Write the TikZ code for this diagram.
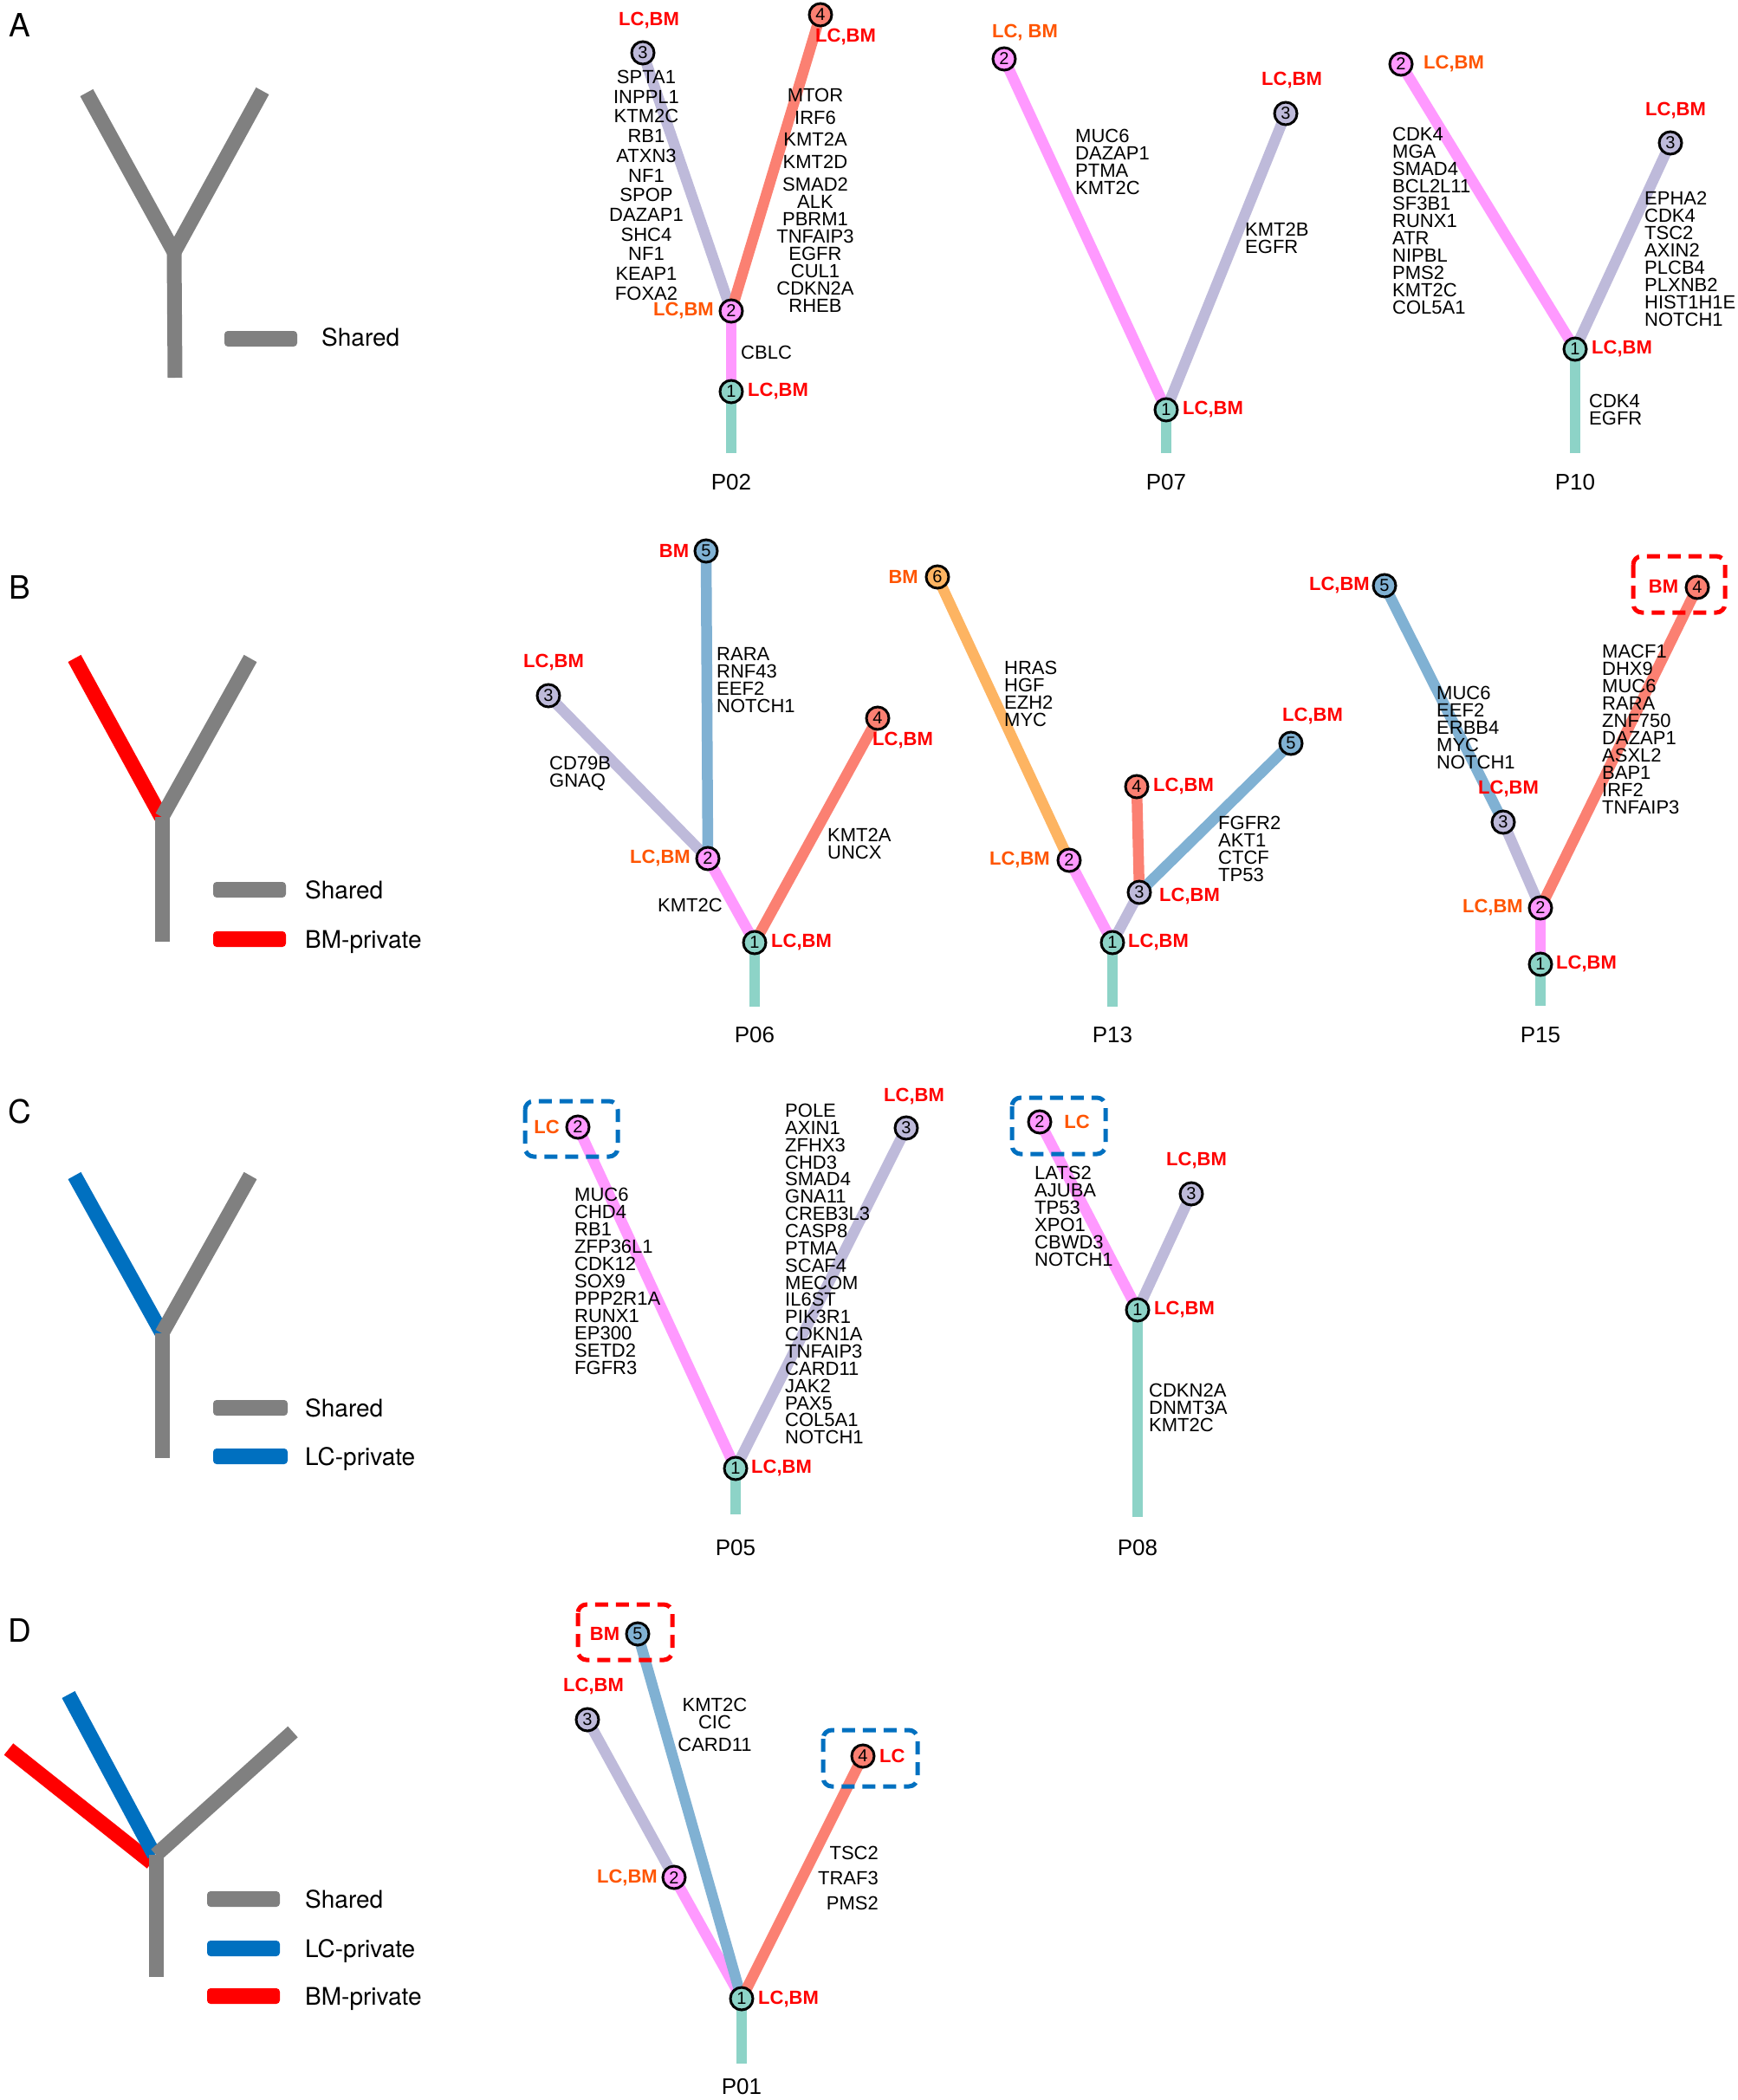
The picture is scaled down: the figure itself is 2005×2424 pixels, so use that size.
\documentclass[tikz,border=0pt]{standalone}
\usepackage{fontspec}
\setmainfont{Liberation Sans}
\newfontfamily\helv{TeX Gyre Heros}
\usetikzlibrary{backgrounds}

\definecolor{trunk}{HTML}{8DD3C7}
\definecolor{pinkc}{HTML}{FF99FF}
\definecolor{lav}{HTML}{BEBADA}
\definecolor{salm}{HTML}{FB8072}
\definecolor{bluec}{HTML}{80B1D3}
\definecolor{orng}{HTML}{FDB462}
\definecolor{tagred}{HTML}{FF0000}
\definecolor{tagorange}{HTML}{FF5500}
\definecolor{shared}{HTML}{808080}
\definecolor{lcpriv}{HTML}{0070C0}
\definecolor{bmpriv}{HTML}{FF0000}

\tikzset{
  clone/.style={circle, draw=black, line width=3pt, minimum size=26pt, inner sep=0pt,
    fill=#1, font=\fontsize{20}{20}\selectfont},
  br/.style={draw=#1, line width=12.5pt},
  genes/.style={inner sep=0pt, align=left, font={\fontsize{22}{#1}\selectfont\lineskiplimit=-40pt}},
  genes/.default=20pt,
  tagr/.style={inner sep=0pt, text=tagred, font=\bfseries\fontsize{22}{22}\selectfont},
  tago/.style={inner sep=0pt, text=tagorange, font=\bfseries\fontsize{22}{22}\selectfont},
  pid/.style={inner sep=0pt, font=\fontsize{26}{26}\selectfont},
  privbox/.style={draw=#1, line width=5pt, dash pattern=on 15pt off 9pt, rounded corners=10pt},
  legarm/.style={draw=#1, line width=17pt},
  legtxt/.style={inner sep=0pt, anchor=base west, font=\helv\fontsize{28}{28}\selectfont},
  panel/.style={inner sep=0pt, font=\helv\fontsize{37}{37}\selectfont},
}

\begin{document}
\begin{tikzpicture}[x=1pt,y=-1pt]
\useasboundingbox (0,0) rectangle (2005,2424);

% ---------------- legends
\node[panel] (labA) at (23,29) {A};
\draw[legarm=shared] (100,107) -- (201,291);
\draw[legarm=shared] (303,105) -- (201,291);
\draw[legarm=shared] (201,291) -- (202,436);
\fill[shared, rounded corners=4pt] (259,382) rectangle (343,400);
\node[legtxt] (legA1) at (371,399) {Shared};

\node[panel] (labB) at (23,678) {B};
\draw[legarm=bmpriv] (86,760) -- (186,943);
\draw[legarm=shared] (289,760) -- (187,943);
\draw[legarm=shared] (187,943) -- (187,1087);
\fill[shared, rounded corners=4pt] (246,1018) rectangle (330,1036);
\fill[bmpriv, rounded corners=4pt] (246,1075) rectangle (330,1093);
\node[legtxt] (legB1) at (352,1037) {Shared};
\node[legtxt] (legB2) at (352,1094) {BM-private};

\node[panel] (labC) at (23,1283) {C};
\draw[legarm=lcpriv] (86,1357) -- (187,1539);
\draw[legarm=shared] (289,1357) -- (187,1539);
\draw[legarm=shared] (187,1539) -- (187,1683);
\fill[shared, rounded corners=4pt] (246,1616) rectangle (332,1634);
\fill[lcpriv, rounded corners=4pt] (246,1672) rectangle (332,1690);
\node[legtxt] (legC1) at (352,1635) {Shared};
\node[legtxt] (legC2) at (352,1691) {LC-private};

\node[panel] (labD) at (23,1882) {D};
\draw[legarm=bmpriv] (10,2019) -- (175,2150);
\draw[legarm=lcpriv] (79,1956) -- (178,2141);
\draw[legarm=shared] (338,1999) -- (180,2141);
\draw[legarm=shared] (180,2141) -- (180,2282);
\fill[shared, rounded corners=4pt] (239,2183) rectangle (323,2201);
\fill[lcpriv, rounded corners=4pt] (239,2240) rectangle (323,2258);
\fill[bmpriv, rounded corners=4pt] (239,2295) rectangle (323,2313);
\node[legtxt] (legD1) at (352,2202) {Shared};
\node[legtxt] (legD2) at (352,2259) {LC-private};
\node[legtxt] (legD3) at (352,2314) {BM-private};

% ---------------- P02
\node[clone=trunk] (p02c1) at (844,452) {1};
\node[clone=pinkc] (p02c2) at (844,359) {2};
\node[clone=lav] (p02c3) at (742,61) {3};
\node[clone=salm] (p02c4) at (947,17) {4};
\coordinate (p02r) at (844,523);
\node[tagr, anchor=west] (p02t1) at (863,452) {LC,BM};
\node[tago, anchor=east] (p02t2) at (824,359) {LC,BM};
\node[tagr] (p02t3) at (749,24) {LC,BM};
\node[tagr, anchor=west] (p02t4) at (941,43) {LC,BM};
\node[genes=22.7pt, align=center, anchor=north] (p02g3) at (746,81)
  {SPTA1\\INPPL1\\KTM2C\\RB1\\ATXN3\\NF1\\SPOP\\DAZAP1\\SHC4\\NF1\\KEAP1\\FOXA2};
\node[genes, align=center, anchor=north] (p02g4) at (941,102)
  {MTOR\\[5.7pt]IRF6\\[5.7pt]KMT2A\\[5.7pt]KMT2D\\[5.7pt]SMAD2\\ALK\\PBRM1\\TNFAIP3\\EGFR\\CUL1\\CDKN2A\\RHEB};
\node[genes, anchor=west] (p02g2) at (855,407) {CBLC};
\node[pid] (p02) at (844,557) {P02};
\begin{scope}[on background layer]
  \draw[br=trunk] (p02r) -- (p02c1.center);
  \draw[br=pinkc] (p02c1.center) -- (p02c2.center);
  \draw[br=lav] (p02c2.center) -- (p02c3.center);
  \draw[br=salm] (p02c2.center) -- (p02c4.center);
\end{scope}

% ---------------- P07
\node[clone=trunk] (p07c1) at (1346,473) {1};
\node[clone=pinkc] (p07c2) at (1159,68) {2};
\node[clone=lav] (p07c3) at (1484,131) {3};
\coordinate (p07r) at (1346,523);
\node[tagr, anchor=west] (p07t1) at (1365,473) {LC,BM};
\node[tago] (p07t2) at (1183,38) {LC, BM};
\node[tagr] (p07t3) at (1491,93) {LC,BM};
\node[genes, anchor=north west] (p07g2) at (1241,149) {MUC6\\DAZAP1\\PTMA\\KMT2C};
\node[genes, anchor=north west] (p07g3) at (1437,257) {KMT2B\\EGFR};
\node[pid] (p07) at (1346,557) {P07};
\begin{scope}[on background layer]
  \draw[br=trunk] (p07r) -- (p07c1.center);
  \draw[br=pinkc] (p07c1.center) -- (p07c2.center);
  \draw[br=lav] (p07c1.center) -- (p07c3.center);
\end{scope}

% ---------------- P10
\node[clone=trunk] (p10c1) at (1818,403) {1};
\node[clone=pinkc] (p10c2) at (1617,74) {2};
\node[clone=lav] (p10c3) at (1928,165) {3};
\coordinate (p10r) at (1818,523);
\node[tagr, anchor=west] (p10t1) at (1837,403) {LC,BM};
\node[tago, anchor=west] (p10t2) at (1643,74) {LC,BM};
\node[tagr] (p10t3) at (1934,128) {LC,BM};
\node[genes, anchor=north west] (p10g2) at (1607,147)
  {CDK4\\MGA\\SMAD4\\BCL2L11\\SF3B1\\RUNX1\\ATR\\NIPBL\\PMS2\\KMT2C\\COL5A1};
\node[genes, anchor=north west] (p10g3) at (1898,221)
  {EPHA2\\CDK4\\TSC2\\AXIN2\\PLCB4\\PLXNB2\\HIST1H1E\\NOTCH1};
\node[genes, anchor=north west] (p10g1) at (1834,455) {CDK4\\EGFR};
\node[pid] (p10) at (1818,557) {P10};
\begin{scope}[on background layer]
  \draw[br=trunk] (p10r) -- (p10c1.center);
  \draw[br=pinkc] (p10c1.center) -- (p10c2.center);
  \draw[br=lav] (p10c1.center) -- (p10c3.center);
\end{scope}

% ---------------- P06
\node[clone=trunk] (p06c1) at (871,1088) {1};
\node[clone=pinkc] (p06c2) at (817,991) {2};
\node[clone=lav] (p06c3) at (633,803) {3};
\node[clone=salm] (p06c4) at (1013,829) {4};
\node[clone=bluec] (p06c5) at (815,636) {5};
\coordinate (p06r) at (871,1162);
\node[tagr, anchor=west] (p06t1) at (890,1088) {LC,BM};
\node[tago, anchor=east] (p06t2) at (797,991) {LC,BM};
\node[tagr] (p06t3) at (639,765) {LC,BM};
\node[tagr, anchor=west] (p06t4) at (1007,855) {LC,BM};
\node[tagr] (p06t5) at (778,636) {BM};
\node[genes, anchor=north west] (p06g5) at (827,747) {RARA\\RNF43\\EEF2\\NOTCH1};
\node[genes, anchor=north west] (p06g3) at (634,873) {CD79B\\GNAQ};
\node[genes, anchor=north west] (p06g4) at (955,956) {KMT2A\\UNCX};
\node[genes, anchor=east] (p06g2) at (834,1045) {KMT2C};
\node[pid] (p06) at (871,1195) {P06};
\begin{scope}[on background layer]
  \draw[br=trunk] (p06r) -- (p06c1.center);
  \draw[br=pinkc] (p06c1.center) -- (p06c2.center);
  \draw[br=lav] (p06c2.center) -- (p06c3.center);
  \draw[br=bluec] (p06c2.center) -- (p06c5.center);
  \draw[br=salm] (p06c1.center) -- (p06c4.center);
\end{scope}

% ---------------- P13
\node[clone=trunk] (p13c1) at (1284,1088) {1};
\node[clone=pinkc] (p13c2) at (1234,993) {2};
\node[clone=lav] (p13c3) at (1315,1030) {3};
\node[clone=salm] (p13c4) at (1312,908) {4};
\node[clone=bluec] (p13c5) at (1490,858) {5};
\node[clone=orng] (p13c6) at (1082,666) {6};
\coordinate (p13r) at (1284,1162);
\node[tagr, anchor=west] (p13t1) at (1302,1088) {LC,BM};
\node[tago, anchor=east] (p13t2) at (1212,993) {LC,BM};
\node[tagr, anchor=west] (p13t3) at (1338,1035) {LC,BM};
\node[tagr, anchor=west] (p13t4) at (1331,908) {LC,BM};
\node[tagr] (p13t5) at (1515,827) {LC,BM};
\node[tago, anchor=east] (p13t6) at (1060,666) {BM};
\node[genes, anchor=north west] (p13g6) at (1159,763) {HRAS\\HGF\\EZH2\\MYC};
\node[genes, anchor=north west] (p13g5) at (1406,942) {FGFR2\\AKT1\\CTCF\\TP53};
\node[pid] (p13) at (1284,1195) {P13};
\begin{scope}[on background layer]
  \draw[br=trunk] (p13r) -- (p13c1.center);
  \draw[br=pinkc] (p13c1.center) -- (p13c2.center);
  \draw[br=orng] (p13c2.center) -- (p13c6.center);
  \draw[br=lav] (p13c1.center) -- (p13c3.center);
  \draw[br=salm] (p13c3.center) -- (p13c4.center);
  \draw[br=bluec] (p13c3.center) -- (p13c5.center);
\end{scope}

% ---------------- P15
\node[clone=trunk] (p15c1) at (1778,1113) {1};
\node[clone=pinkc] (p15c2) at (1778,1048) {2};
\node[clone=lav] (p15c3) at (1735,949) {3};
\node[clone=salm] (p15c4) at (1959,678) {4};
\node[clone=bluec] (p15c5) at (1598,676) {5};
\coordinate (p15r) at (1778,1161);
\node[tagr, anchor=west] (p15t1) at (1796,1113) {LC,BM};
\node[tago, anchor=east] (p15t2) at (1758,1048) {LC,BM};
\node[tagr] (p15t3) at (1741,911) {LC,BM};
\node[tagr] (p15t4) at (1920,677) {BM};
\node[tagr, anchor=east] (p15t5) at (1581,676) {LC,BM};
\node[genes, anchor=north west] (p15g5) at (1658,792) {MUC6\\EEF2\\ERBB4\\MYC\\NOTCH1};
\node[genes, anchor=north west] (p15g4) at (1849,744)
  {MACF1\\DHX9\\MUC6\\RARA\\ZNF750\\DAZAP1\\ASXL2\\BAP1\\IRF2\\TNFAIP3};
\draw[privbox=bmpriv] (1885,642) rectangle (1991,707);
\node[pid] (p15) at (1778,1195) {P15};
\begin{scope}[on background layer]
  \draw[br=trunk] (p15r) -- (p15c1.center);
  \draw[br=pinkc] (p15c1.center) -- (p15c2.center);
  \draw[br=lav] (p15c2.center) -- (p15c3.center);
  \draw[br=bluec] (p15c3.center) -- (p15c5.center);
  \draw[br=salm] (p15c2.center) -- (p15c4.center);
\end{scope}

% ---------------- P05
\node[clone=trunk] (p05c1) at (849,1695) {1};
\node[clone=pinkc] (p05c2) at (667,1301) {2};
\node[clone=lav] (p05c3) at (1046,1302) {3};
\coordinate (p05r) at (849,1748);
\node[tagr, anchor=west] (p05t1) at (867,1695) {LC,BM};
\node[tago] (p05t2) at (631,1301) {LC};
\node[tagr] (p05t3) at (1055,1266) {LC,BM};
\node[genes, anchor=north west] (p05g2) at (663,1371)
  {MUC6\\CHD4\\RB1\\ZFP36L1\\CDK12\\SOX9\\PPP2R1A\\RUNX1\\EP300\\SETD2\\FGFR3};
\node[genes=19.85pt, anchor=north west] (p05g3) at (906,1274)
  {POLE\\AXIN1\\ZFHX3\\CHD3\\SMAD4\\GNA11\\CREB3L3\\CASP8\\PTMA\\SCAF4\\MECOM\\IL6ST\\PIK3R1\\CDKN1A\\TNFAIP3\\CARD11\\JAK2\\PAX5\\COL5A1\\NOTCH1};
\draw[privbox=lcpriv] (606,1271) rectangle (713,1335);
\node[pid] (p05) at (849,1787) {P05};
\begin{scope}[on background layer]
  \draw[br=trunk] (p05r) -- (p05c1.center);
  \draw[br=pinkc] (p05c1.center) -- (p05c2.center);
  \draw[br=lav] (p05c1.center) -- (p05c3.center);
\end{scope}

% ---------------- P08
\node[clone=trunk] (p08c1) at (1313,1512) {1};
\node[clone=pinkc] (p08c2) at (1200,1295) {2};
\node[clone=lav] (p08c3) at (1375,1378) {3};
\coordinate (p08r) at (1313,1751);
\node[tagr, anchor=west] (p08t1) at (1332,1512) {LC,BM};
\node[tago] (p08t2) at (1243,1295) {LC};
\node[tagr] (p08t3) at (1381,1340) {LC,BM};
\node[genes, anchor=north west] (p08g2) at (1194,1346) {LATS2\\AJUBA\\TP53\\XPO1\\CBWD3\\NOTCH1};
\node[genes, anchor=north west] (p08g1) at (1326,1597) {CDKN2A\\DNMT3A\\KMT2C};
\draw[privbox=lcpriv] (1168,1267) rectangle (1276,1332);
\node[pid] (p08) at (1313,1787) {P08};
\begin{scope}[on background layer]
  \draw[br=trunk] (p08r) -- (p08c1.center);
  \draw[br=pinkc] (p08c1.center) -- (p08c2.center);
  \draw[br=lav] (p08c1.center) -- (p08c3.center);
\end{scope}

% ---------------- P01
\node[clone=trunk] (p01c1) at (856,2307) {1};
\node[clone=pinkc] (p01c2) at (778,2167) {2};
\node[clone=lav] (p01c3) at (678,1985) {3};
\node[clone=salm] (p01c4) at (996,2027) {4};
\node[clone=bluec] (p01c5) at (736,1886) {5};
\coordinate (p01r) at (856,2382);
\node[tagr, anchor=west] (p01t1) at (875,2307) {LC,BM};
\node[tago, anchor=east] (p01t2) at (759,2167) {LC,BM};
\node[tagr] (p01t3) at (685,1946) {LC,BM};
\node[tagr, anchor=west] (p01t4) at (1015,2027) {LC};
\node[tagr] (p01t5) at (698,1886) {BM};
\node[genes, align=center, anchor=north] (p01g5) at (825,1960) {KMT2C\\CIC\\[5.5pt]CARD11};
\node[genes=29pt, align=right, anchor=north east] (p01g4) at (1014,2131) {TSC2\\TRAF3\\PMS2};
\draw[privbox=bmpriv] (667,1852) rectangle (776,1916);
\draw[privbox=lcpriv] (950,1997) rectangle (1059,2062);
\node[pid] (p01) at (856,2409) {P01};
\begin{scope}[on background layer]
  \draw[br=trunk] (p01r) -- (p01c1.center);
  \draw[br=pinkc] (p01c1.center) -- (p01c2.center);
  \draw[br=lav] (p01c2.center) -- (p01c3.center);
  \draw[br=bluec] (p01c1.center) -- (p01c5.center);
  \draw[br=salm] (p01c1.center) -- (p01c4.center);
\end{scope}

\end{tikzpicture}
\end{document}
